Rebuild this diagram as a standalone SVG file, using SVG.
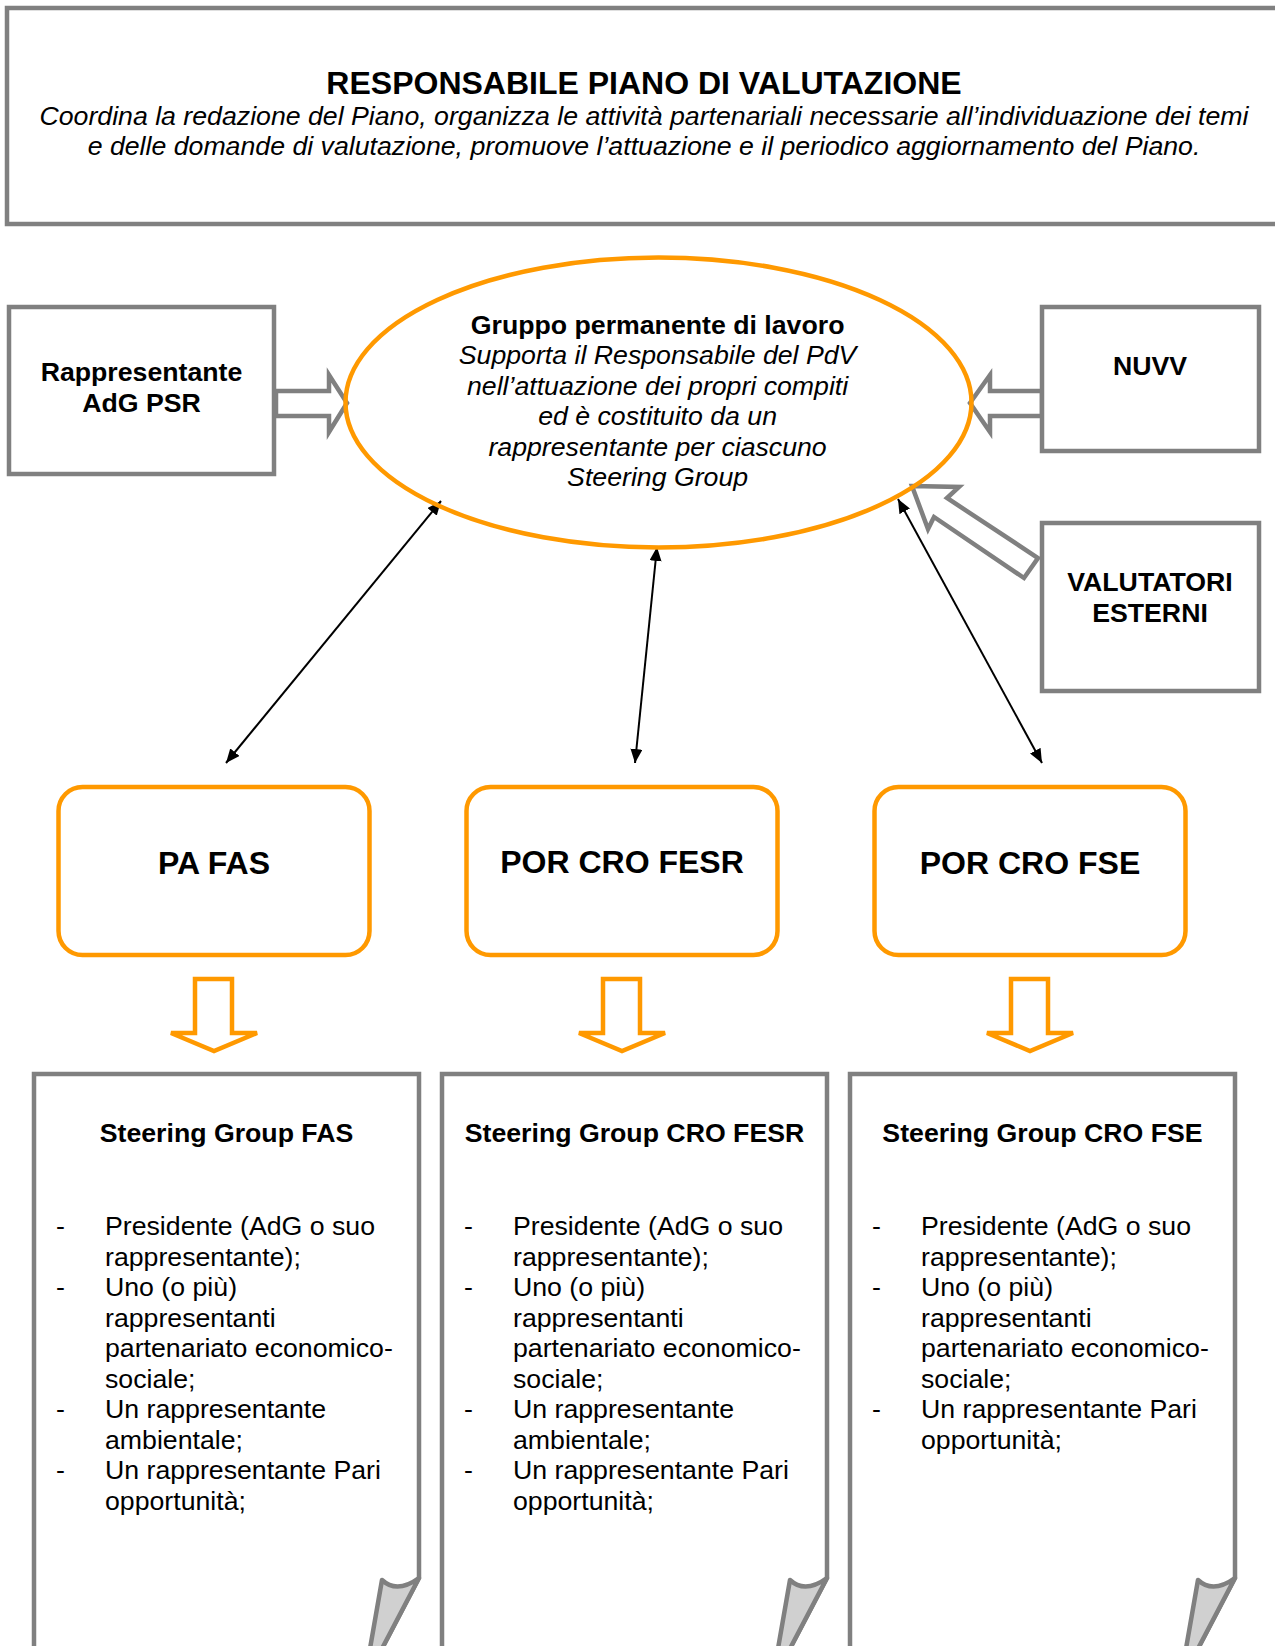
<svg xmlns="http://www.w3.org/2000/svg" width="1275" height="1646" viewBox="0 0 1275 1646">
<defs>
<style>
text{font-family:"Liberation Sans",Arial,sans-serif;fill:#000}
.t{font-size:32px;font-weight:bold;text-anchor:middle}
.it{font-size:26.7px;font-style:italic;text-anchor:middle}
.b{font-size:26.7px;font-weight:bold;text-anchor:middle}
.bb{font-size:32px;font-weight:bold;text-anchor:middle}
.r{font-size:26.7px}
.gbox{fill:#fff;stroke:#808080;stroke-width:4.5}
.obox{fill:#fff;stroke:#FF9900;stroke-width:4.5}
.garrow{fill:#fff;stroke:#808080;stroke-width:4.5;stroke-linejoin:miter}
.oarrow{fill:#fff;stroke:#FF9900;stroke-width:4.5;stroke-linejoin:miter}
.thin{stroke:#000;stroke-width:2;fill:none;marker-start:url(#ah);marker-end:url(#ah)}
.fold{fill:#d0d0d0;stroke:#808080;stroke-width:4.5;stroke-linejoin:round}
</style>
<marker id="ah" viewBox="0 0 14 12" refX="14" refY="6" markerWidth="14" markerHeight="12" markerUnits="userSpaceOnUse" orient="auto-start-reverse">
<path d="M0,0 L14,6 L0,12 z" fill="#000"/>
</marker>
</defs>
<rect width="1275" height="1646" fill="#fff"/>

<g id="responsabile">
<rect class="gbox" x="7" y="8" width="1300" height="216"/>
<text class="t" x="644" y="94">RESPONSABILE PIANO DI VALUTAZIONE</text>
<text class="it" x="644" y="125">Coordina la redazione del Piano, organizza le attività partenariali necessarie all’individuazione dei temi</text>
<text class="it" x="644" y="155">e delle domande di valutazione, promuove l’attuazione e il periodico aggiornamento del Piano.</text>
</g>

<g id="connectors">
<polygon class="garrow" points="276,391 329,391 329,375 347,403 329,432 329,416 276,416"/>
<polygon class="garrow" points="1042,391 990,391 990,375 970,403 990,432 990,416 1042,416"/>
<polygon class="garrow" points="912,486 959,487 947,498 1038,558 1024,578 934,517 928,529"/>
<line class="thin" x1="441" y1="501" x2="226" y2="763"/>
<line class="thin" x1="657" y1="547" x2="635" y2="763"/>
<line class="thin" x1="898" y1="499" x2="1042" y2="763"/>
<polygon class="oarrow" points="195,979 232,979 232,1033 257,1033 214,1051 171,1033 195,1033"/>
<polygon class="oarrow" points="603,979 640,979 640,1033 665,1033 622,1051 579,1033 603,1033"/>
<polygon class="oarrow" points="1011,979 1048,979 1048,1033 1073,1033 1030,1051 987,1033 1011,1033"/>
</g>

<g id="rappresentante-adg-psr">
<rect class="gbox" x="9" y="307" width="265" height="167"/>
<text class="b" x="141.5" y="381">Rappresentante</text>
<text class="b" x="141.5" y="412">AdG PSR</text>
</g>

<g id="nuvv">
<rect class="gbox" x="1042" y="307" width="217" height="144"/>
<text class="b" x="1150" y="375">NUVV</text>
</g>

<g id="valutatori-esterni">
<rect class="gbox" x="1042" y="523" width="217" height="168"/>
<text class="b" x="1150" y="591">VALUTATORI</text>
<text class="b" x="1150" y="622">ESTERNI</text>
</g>

<g id="gruppo-permanente">
<ellipse cx="658.5" cy="402.5" rx="313" ry="145" fill="none" stroke="#FF9900" stroke-width="4.5"/>
<text class="b" x="657.6" y="333.5">Gruppo permanente di lavoro</text>
<text class="it" x="657.6" y="364">Supporta il Responsabile del PdV</text>
<text class="it" x="657.6" y="394.5">nell’attuazione dei propri compiti</text>
<text class="it" x="657.6" y="425">ed è costituito da un</text>
<text class="it" x="657.6" y="455.5">rappresentante per ciascuno</text>
<text class="it" x="657.6" y="486">Steering Group</text>
</g>

<g id="pa-fas">
<rect class="obox" x="58.5" y="787" width="311" height="168" rx="24"/>
<text class="bb" x="214" y="874">PA FAS</text>
</g>
<g id="por-cro-fesr">
<rect class="obox" x="466.5" y="787" width="311" height="168" rx="24"/>
<text class="bb" x="622" y="873">POR CRO FESR</text>
</g>
<g id="por-cro-fse">
<rect class="obox" x="874.5" y="787" width="311" height="168" rx="24"/>
<text class="bb" x="1030" y="874">POR CRO FSE</text>
</g>

<g id="steering-fas">
<path class="gbox" d="M34,1660 V1074 H419 V1578 L376,1660 Z"/>
<path class="fold" d="M382,1580 Q397,1594 419,1578 L376,1660 L368,1660 Z"/>
<text class="b" x="226.5" y="1142">Steering Group FAS</text>
<g class="r">
<text x="56" y="1235">-</text><text x="105" y="1235">Presidente (AdG o suo</text>
<text x="105" y="1265.5">rappresentante);</text>
<text x="56" y="1296">-</text><text x="105" y="1296">Uno (o più)</text>
<text x="105" y="1326.5">rappresentanti</text>
<text x="105" y="1357">partenariato economico-</text>
<text x="105" y="1387.5">sociale;</text>
<text x="56" y="1418">-</text><text x="105" y="1418">Un rappresentante</text>
<text x="105" y="1448.5">ambientale;</text>
<text x="56" y="1479">-</text><text x="105" y="1479">Un rappresentante Pari</text>
<text x="105" y="1509.5">opportunità;</text>
</g>
</g>

<g id="steering-cro-fesr">
<path class="gbox" d="M442,1660 V1074 H827 V1578 L784,1660 Z"/>
<path class="fold" d="M790,1580 Q805,1594 827,1578 L784,1660 L776,1660 Z"/>
<text class="b" x="634.5" y="1142">Steering Group CRO FESR</text>
<g class="r">
<text x="464" y="1235">-</text><text x="513" y="1235">Presidente (AdG o suo</text>
<text x="513" y="1265.5">rappresentante);</text>
<text x="464" y="1296">-</text><text x="513" y="1296">Uno (o più)</text>
<text x="513" y="1326.5">rappresentanti</text>
<text x="513" y="1357">partenariato economico-</text>
<text x="513" y="1387.5">sociale;</text>
<text x="464" y="1418">-</text><text x="513" y="1418">Un rappresentante</text>
<text x="513" y="1448.5">ambientale;</text>
<text x="464" y="1479">-</text><text x="513" y="1479">Un rappresentante Pari</text>
<text x="513" y="1509.5">opportunità;</text>
</g>
</g>

<g id="steering-cro-fse">
<path class="gbox" d="M850,1660 V1074 H1235 V1578 L1192,1660 Z"/>
<path class="fold" d="M1198,1580 Q1213,1594 1235,1578 L1192,1660 L1184,1660 Z"/>
<text class="b" x="1042.5" y="1142">Steering Group CRO FSE</text>
<g class="r">
<text x="872" y="1235">-</text><text x="921" y="1235">Presidente (AdG o suo</text>
<text x="921" y="1265.5">rappresentante);</text>
<text x="872" y="1296">-</text><text x="921" y="1296">Uno (o più)</text>
<text x="921" y="1326.5">rappresentanti</text>
<text x="921" y="1357">partenariato economico-</text>
<text x="921" y="1387.5">sociale;</text>
<text x="872" y="1418">-</text><text x="921" y="1418">Un rappresentante Pari</text>
<text x="921" y="1448.5">opportunità;</text>
</g>
</g>
</svg>
